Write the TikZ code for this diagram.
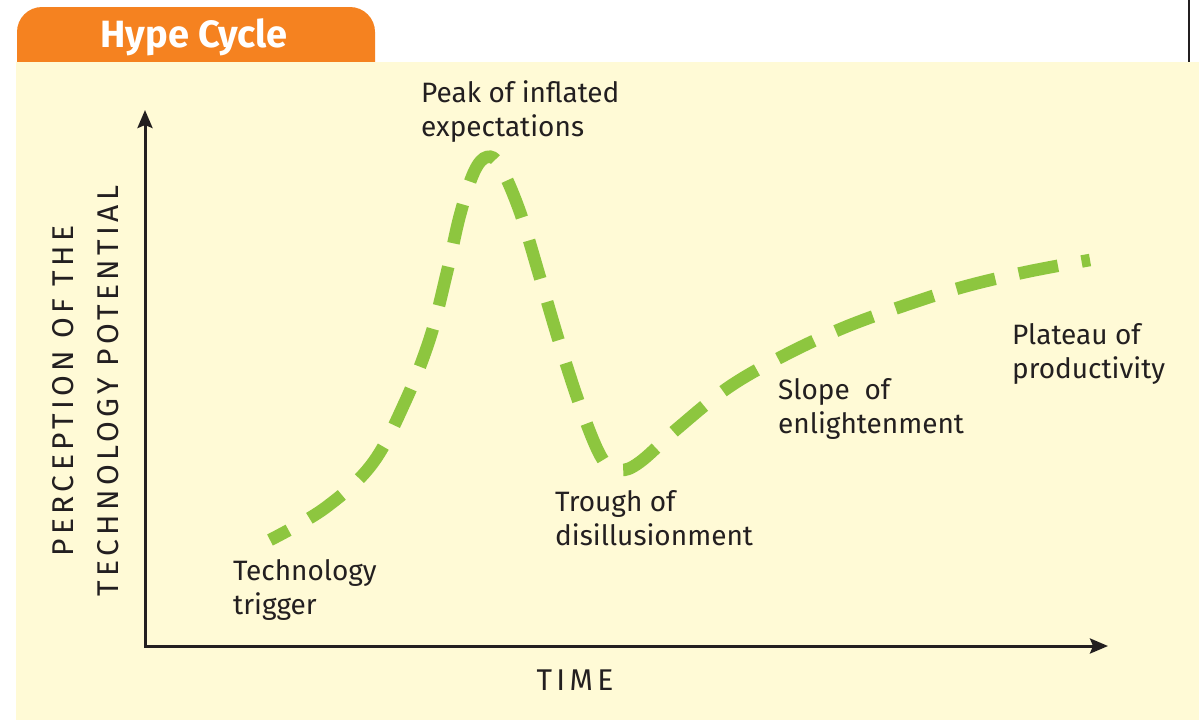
\documentclass[tikz,border=0pt]{standalone}
\usepackage{fontspec}
\setmainfont{Fira Sans}
\usetikzlibrary{arrows.meta}
\definecolor{tabOrange}{HTML}{F58220}
\definecolor{panelYellow}{HTML}{FFFAD6}
\definecolor{hypeGreen}{HTML}{8DC63F}
\definecolor{inkGray}{HTML}{231F20}

\begin{document}
\begin{tikzpicture}[x=1pt,y=-1pt,
  stagetext/.style={font=\fontsize{28}{34.5}\selectfont, text=inkGray, align=left,
    anchor=north west, inner sep=0pt},
  axistext/.style={font=\fontsize{30}{45}\selectfont\addfontfeatures{LetterSpace=14.5},
    text=inkGray, align=center, inner sep=0pt},
  axisline/.style={draw=inkGray, line width=3pt,
    {Stealth[length=18pt,width=15pt,inset=3pt]}-{Stealth[length=18pt,width=15pt,inset=3pt]}},
  hype/.style={draw=hypeGreen, line width=12.5pt, dash pattern=on 40pt off 24pt, dash phase=19pt}
]
\useasboundingbox (0,0) rectangle (1199,720);
\fill[white] (0,0) rectangle (1199,720);

% header tab and panel
\fill[tabOrange, rounded corners=25pt] (17,7) rectangle (375,100);
\fill[panelYellow] (16,62) rectangle (1199,720);
\draw[inkGray, line width=2.6pt] (1189,0) -- (1189,62);
\node[font=\fontsize{38}{38}\selectfont\bfseries, text=white, anchor=base] (title) at (194,47) {Hype Cycle};

% axes
\coordinate (O) at (145,646);
\coordinate (ytip) at (145,110);
\coordinate (xtip) at (1108,646);
\draw[axisline] (ytip) -- (O) -- (xtip);
\node[axistext, rotate=90] (ylab) at (86,391) {PERCEPTION OF THE\\TECHNOLOGY POTENTIAL};
\node[axistext] (xlab) at (575,680) {TIME};

% hype curve
\draw[hype] plot[smooth, tension=0.6] coordinates {
  (270,540) (325,508) (372,464) (405,402) (430,338) (447,272) (460,215)
  (474,172) (487,157) (500,166) (520,212) (541,281) (561,348) (583,414)
  (603,460) (620,470) (640,462) (678,428) (729,387) (785,355) (843,328)
  (903,306) (963,287) (1026,272) (1090,260)};

% stage labels
\node[stagetext] (peak) at (421,80) {Peak of inflated\\expectations};
\node[stagetext] (trigger) at (233,559) {Technology\\trigger};
\node[stagetext] (trough) at (555,490) {Trough of\\disillusionment};
\node[stagetext] (slope) at (778,378) {Slope\ \ of\\enlightenment};
\node[stagetext] (plateau) at (1012,323) {Plateau of\\productivity};
\end{tikzpicture}
\end{document}
